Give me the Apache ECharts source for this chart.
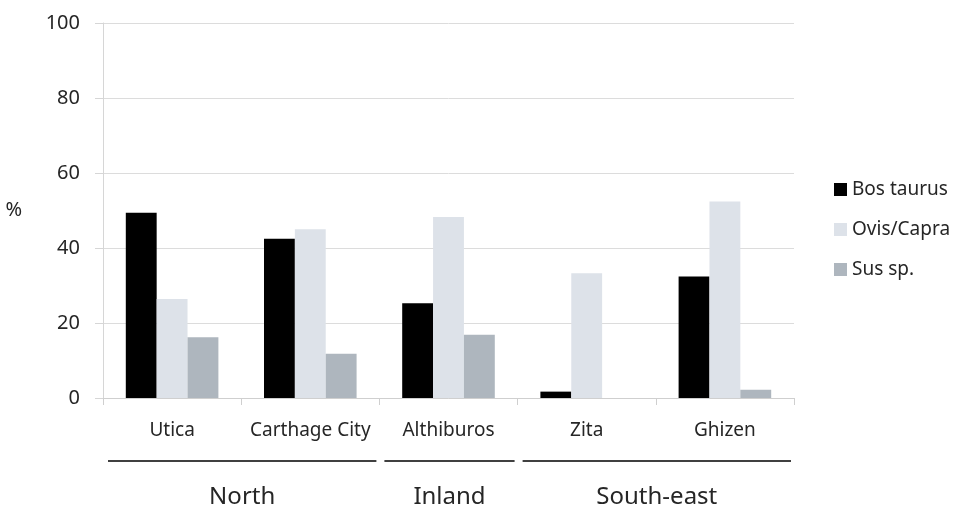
<!DOCTYPE html>
<html>
<head>
<meta charset="utf-8">
<script src="https://cdn.jsdelivr.net/npm/echarts@6/dist/echarts.min.js"></script>
<style>
html,body{margin:0;padding:0;background:#fff;}
#chart{width:955px;height:509px;}
</style>
</head>
<body>
<div id="chart"></div>
<script>
const categories = ['Utica', 'Carthage City', 'Althiburos', 'Zita', 'Ghizen'];
const seriesNames = ['Bos taurus', 'Ovis/Capra', 'Sus sp.'];
const bosTaurus = [49.4, 42.5, 25.3, 1.7, 32.4];
const ovisCapra = [26.4, 45.0, 48.3, 33.3, 52.4];
const susSp = [16.2, 11.8, 16.9, 0, 2.2];
const groupNames = ['North', 'Inland', 'South-east'];
const groupStart = [0, 2, 3];
const groupEnd = [1, 2, 4];

const FONT = '"Noto Sans", "Open Sans", sans-serif';
const TEXT = '#262626';
const colors = ['#000000', '#dde2e9', '#aeb6be'];

const chart = echarts.init(document.getElementById('chart'), null, {renderer: 'canvas'});
const option = {
  animation: false,
  textStyle: {fontFamily: FONT},
  grid: {left: 103, right: 161, top: 23, bottom: 111, containLabel: false},
  legend: {
    orient: 'vertical',
    left: 829,
    top: 175,
    itemWidth: 13,
    itemHeight: 13,
    itemGap: 21,
    icon: 'rect',
    textStyle: {fontSize: 19, color: TEXT, fontFamily: FONT},
    data: seriesNames
  },
  xAxis: {
    type: 'category',
    data: categories,
    axisLine: {lineStyle: {color: '#cfcfcf', width: 1}},
    axisTick: {show: true, interval: 0, length: 7, lineStyle: {color: '#cfcfcf'}},
    axisLabel: {interval: 0, fontSize: 19, color: TEXT, margin: 23, fontFamily: FONT}
  },
  yAxis: {
    type: 'value',
    min: 0, max: 100, interval: 20,
    name: '%',
    nameLocation: 'middle',
    nameRotate: 0,
    nameGap: 81,
    nameTextStyle: {fontSize: 20, color: TEXT, fontFamily: FONT},
    axisLine: {show: true, lineStyle: {color: '#d6d6d6'}},
    axisTick: {show: true, length: 8, lineStyle: {color: '#d6d6d6'}},
    splitLine: {lineStyle: {color: '#dcdcdc', width: 1}},
    axisLabel: {fontSize: 20, color: TEXT, margin: 23, fontFamily: FONT}
  },
  series: [
    {name: seriesNames[0], type: 'bar', data: bosTaurus, itemStyle: {color: colors[0]}, barGap: '0%', barCategoryGap: '33%'},
    {name: seriesNames[1], type: 'bar', data: ovisCapra, itemStyle: {color: colors[1]}, barGap: '0%', barCategoryGap: '33%'},
    {name: seriesNames[2], type: 'bar', data: susSp, itemStyle: {color: colors[2]}, barGap: '0%', barCategoryGap: '33%'}
  ]
};
chart.setOption(option);

// group annotation lines and labels, positioned via the category axis scale
const x0 = chart.convertToPixel({xAxisIndex: 0}, 0);
const x1 = chart.convertToPixel({xAxisIndex: 0}, 1);
const band = x1 - x0;
const yZero = chart.convertToPixel({yAxisIndex: 0}, 0);
const graphics = [];
for (let i = 0; i < groupNames.length; i++) {
  const left = chart.convertToPixel({xAxisIndex: 0}, groupStart[i]) - band / 2 + 5;
  const right = chart.convertToPixel({xAxisIndex: 0}, groupEnd[i]) + band / 2 - 3;
  graphics.push({
    type: 'line',
    shape: {x1: left, y1: yZero + 63, x2: right, y2: yZero + 63},
    style: {stroke: '#404040', lineWidth: 2}
  });
  graphics.push({
    type: 'text',
    x: (left + right) / 2,
    y: yZero + 99,
    style: {text: groupNames[i], fontSize: 24, fill: TEXT, fontFamily: FONT, align: 'center', verticalAlign: 'middle'}
  });
}
chart.setOption({graphic: graphics});
</script>
</body>
</html>
